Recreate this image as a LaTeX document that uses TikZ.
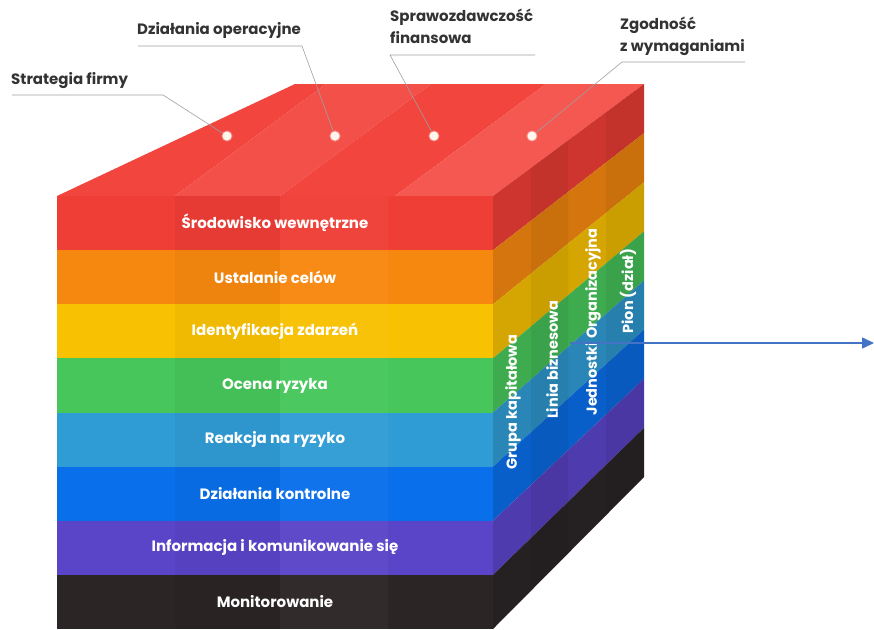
\documentclass[tikz,border=0pt]{standalone}
\usepackage{fontspec}
\setmainfont{Poppins}
\usetikzlibrary{arrows.meta}
\definecolor{b0}{HTML}{EF3E36}
\definecolor{b1}{HTML}{F7880F}
\definecolor{b2}{HTML}{F8C102}
\definecolor{b3}{HTML}{47C75B}
\definecolor{b4}{HTML}{309CD5}
\definecolor{b5}{HTML}{0A6FEB}
\definecolor{b6}{HTML}{5A45C9}
\definecolor{b7}{HTML}{2B2526}
\definecolor{topA}{HTML}{F1453E}
\definecolor{topB}{HTML}{F4504A}
\definecolor{lbl}{HTML}{333333}
\definecolor{arrowblue}{HTML}{4472C4}
\tikzset{
  frontlbl/.style={text=white,font=\bfseries\fontsize{15}{18}\selectfont,inner sep=0pt},
  sidelbl/.style={text=white,font=\bfseries\fontsize{14.5}{17}\selectfont,inner sep=0pt,rotate=90},
  toplbl/.style={text=lbl,font=\bfseries\fontsize{15}{22}\selectfont,inner sep=0pt,align=left},
  leader/.style={draw=gray!75,line width=0.6pt},
  dotmark/.style={circle,fill=white!92!orange,draw=white,draw opacity=0.35,line width=2pt,inner sep=0pt,minimum size=9pt},
}
\begin{document}
\begin{tikzpicture}[x=1pt,y=-1pt]
\useasboundingbox (0,0) rectangle (874,629);
% top face stripes (parallel to right edge)
\fill[topA] (57,196) -- (175,196) -- (326,84) -- (295,84) -- cycle;
\fill[topB] (175,196) -- (280,196) -- (431,84) -- (326,84) -- cycle;
\fill[topA] (280,196) -- (395,196) -- (546,84) -- (431,84) -- cycle;
\fill[topB!96!white] (395,196) -- (493,196) -- (644,84) -- (546,84) -- cycle;
% bands
\foreach \i/\txt in {0/{Środowisko wewnętrzne},1/{Ustalanie celów},2/{Identyfikacja zdarzeń},3/{Ocena ryzyka},4/{Reakcja na ryzyko},5/{Działania kontrolne},6/{Informacja i komunikowanie się},7/{Monitorowanie}}{
  \pgfmathsetmacro\yfa{196+\i*54.125}
  \pgfmathsetmacro\yfb{196+(\i+1)*54.125}
  \pgfmathsetmacro\yba{84+\i*49.125}
  \pgfmathsetmacro\ybb{84+(\i+1)*49.125}
  \fill[b\i] (57,\yfa) rectangle (493,\yfb);
  \fill[black,opacity=0.035] (175,\yfa) rectangle (280,\yfb);
  \fill[white,opacity=0.03] (280,\yfa) rectangle (388,\yfb);
  \fill[b\i!86!black] (493,\yfa) -- (644,\yba) -- (644,\ybb) -- (493,\yfb) -- cycle;
  \node[frontlbl] (band\i) at (275,{(\yfa+\yfb)/2}) {\txt};
}
% side vertical stripes
\fill[black,opacity=0.05] (531,167.8) -- (568,140.4) -- (568,553.5) -- (531,590.7) -- cycle;
\fill[black,opacity=0.05] (606,112.2) -- (644,84) -- (644,477) -- (606,515.3) -- cycle;
% side labels
\node[sidelbl] (s1) at (513,402) {Grupa kapitałowa};
\node[sidelbl] (s2) at (552,360) {Linia biznesowa};
\node[sidelbl] (s3) at (593,322) {Jednostki Organizacyjna};
\node[sidelbl] (s4) at (628,291) {Pion (dział)};
% dots
\node[dotmark] (d1) at (227,136) {};
\node[dotmark] (d2) at (335,136) {};
\node[dotmark] (d3) at (434,136) {};
\node[dotmark] (d4) at (532,136) {};
% top labels
\node[toplbl,anchor=west] (t1) at (11,81) {Strategia firmy};
\node[toplbl,anchor=west] (t2) at (137,30) {Działania operacyjne};
\node[toplbl,anchor=north west] (t3) at (390,9) {Sprawozdawczość\\finansowa};
\node[toplbl,anchor=north west] (t4) at (620,17) {Zgodność\\z wymaganiami};
\coordinate (u1a) at (12,95); \coordinate (u1b) at (163,95);
\coordinate (u2a) at (138,46); \coordinate (u2b) at (302,46);
\coordinate (u3a) at (390,55); \coordinate (u3b) at (535,55);
\coordinate (u4a) at (622,62); \coordinate (u4b) at (745,62);
\draw[leader] (u1a) -- (u1b) -- (d1);
\draw[leader] (u2a) -- (u2b) -- (d2);
\draw[leader] (u3b) -- (u3a) -- (d3);
\draw[leader] (u4b) -- (u4a) -- (d4);
% arrow
\coordinate (arrS) at (570,343);
\coordinate (arrE) at (874,343);
\draw[arrowblue,line width=1.6pt,-{Triangle[length=12pt,width=11pt]}] (arrS) -- (arrE);
\end{tikzpicture}
\end{document}
